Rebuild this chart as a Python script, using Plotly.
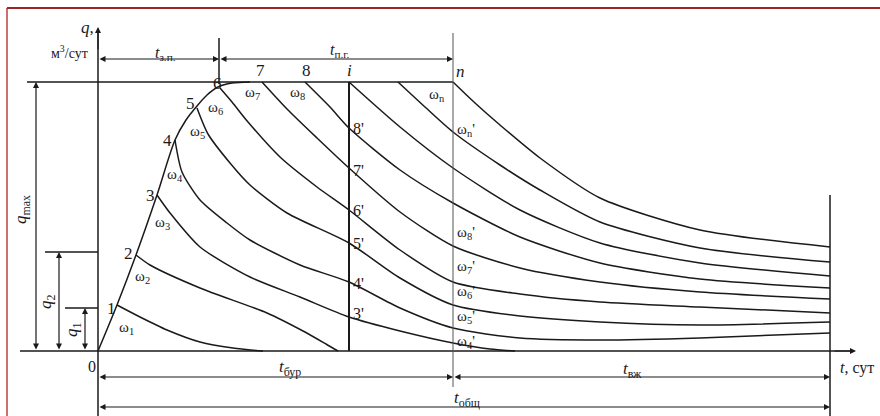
import plotly.graph_objects as go

# Key moments on the time axis and key flow-rate levels
T_ZP = 121      # end of ramp-up (point 6)
T_I = 251       # moment i
T_BUR = 355     # end of drilling (point n)
T_OBSH = 732    # end of field life
Q_MAX = 269
Q2 = 99
Q1 = 43

# Combined field production curve (ramp-up part)
rise_t = [0, 19, 38, 59, 77, 88, 99, 109, 120, 134, 152]
rise_q = [0, 46, 96, 156, 211, 231, 245, 256, 264, 268, 269]

# Decline curves of the individual wells brought on stream at points 1..8, i, m, n
c1_t = [19, 42, 69, 102, 135, 165]
c1_q = [46, 34, 21, 9, 3, 0]
c2_t = [38, 52, 102, 169, 205, 228, 240]
c2_q = [96, 86, 63, 38, 20, 7, 0]
c3_t = [59, 72, 102, 152, 202, 251, 302, 355, 392, 417]
c3_q = [156, 138, 104, 74, 54, 34, 20, 8, 2, 0]
c4_t = [77, 84, 102, 129, 152, 202, 251, 302, 355, 422, 502, 602, 732]
c4_q = [211, 179, 151, 128, 111, 86, 69, 43, 23, 13, 11, 13, 18]
c5_t = [99, 110, 132, 152, 189, 251, 302, 355, 422, 502, 602, 732]
c5_q = [243, 217, 188, 166, 138, 108, 73, 46, 35, 29, 26, 29]
c6_t = [122, 134, 150, 182, 219, 251, 302, 355, 422, 502, 602, 732]
c6_q = [263, 249, 229, 194, 164, 141, 101, 69, 57, 49, 44, 38]
c7_t = [164, 189, 219, 251, 302, 355, 422, 502, 602, 732]
c7_q = [269, 242, 213, 183, 139, 105, 83, 69, 59, 52]
c8_t = [207, 232, 251, 302, 355, 422, 502, 602, 732]
c8_q = [269, 244, 223, 181, 148, 114, 88, 72, 63]
ci_t = [251, 302, 355, 422, 502, 602, 732]
ci_q = [269, 224, 183, 141, 108, 88, 75]
cm_t = [300, 327, 355, 402, 442, 502, 602, 732]
cm_q = [269, 244, 219, 186, 161, 129, 103, 89]
cn_t = [355, 377, 402, 442, 502, 602, 732]
cn_q = [269, 248, 226, 193, 153, 121, 104]

decline = [(c1_t, c1_q), (c2_t, c2_q), (c3_t, c3_q), (c4_t, c4_q), (c5_t, c5_q),
           (c6_t, c6_q), (c7_t, c7_q), (c8_t, c8_q), (ci_t, ci_q), (cm_t, cm_q),
           (cn_t, cn_q)]

FONT = "Liberation Serif"
INK = "#1a1a1a"

fig = go.Figure()

fig.add_trace(go.Scatter(x=rise_t, y=rise_q, mode="lines",
                         line=dict(color=INK, width=1.5, shape="spline", smoothing=0.8),
                         hoverinfo="skip", showlegend=False))
for ct, cq in decline:
    fig.add_trace(go.Scatter(x=ct, y=cq, mode="lines",
                             line=dict(color=INK, width=1.5, shape="spline", smoothing=0.7),
                             hoverinfo="skip", showlegend=False))

shapes = []


def seg(x0, y0, x1, y1, w=1.5, c=INK):
    shapes.append(dict(type="line", xref="x", yref="y", x0=x0, y0=y0, x1=x1, y1=y1,
                       line=dict(color=c, width=w)))


# axes
seg(0, -70, 0, 318)
seg(-78, 0, 752, 0)
# q_max level
seg(-71, Q_MAX, T_BUR, Q_MAX)
# q2, q1 extension lines
seg(-53, Q2, 0, Q2)
seg(-33, Q1, 0, Q1)
# vertical markers
seg(T_ZP, 267, T_ZP, 313)
seg(T_I, 0, T_I, Q_MAX, w=2)
seg(T_BUR, -36, T_BUR, 318, w=1, c="#555555")
seg(T_OBSH, -70, T_OBSH, 156)

# picture frame
shapes.append(dict(type="line", xref="paper", yref="paper", x0=7 / 880, y0=0,
                   x1=7 / 880, y1=1 - 8 / 416, line=dict(color="#c97070", width=2)))
shapes.append(dict(type="line", xref="paper", yref="paper", x0=7 / 880, y0=1 - 8 / 416,
                   x1=1, y1=1 - 8 / 416, line=dict(color="#9b2525", width=2)))

ann = []


def arrow(x0, y0, x1, y1, both=True):
    ann.append(dict(x=x1, y=y1, ax=x0, ay=y0, xref="x", yref="y", axref="x", ayref="y",
                    text="", showarrow=True, arrowhead=2, arrowsize=1, arrowwidth=1.2,
                    arrowcolor=INK, arrowside="end+start" if both else "end"))


# dimension arrows
arrow(0, 292, T_ZP, 292)
arrow(T_ZP, 292, T_BUR, 292)
arrow(0, -26, T_BUR, -26)
arrow(T_BUR, -26, T_OBSH, -26)
arrow(0, -56, T_OBSH, -56)
arrow(-62, 0, -62, Q_MAX)
arrow(-39, 0, -39, Q2)
arrow(-13, 0, -13, Q1)
# axis arrow heads
arrow(0, 300, 0, 324, both=False)
arrow(735, 0, 758, 0, both=False)


def label(x, y, text, size=15, xanchor="center", angle=0):
    ann.append(dict(x=x, y=y, xref="x", yref="y", text=text, showarrow=False,
                    xanchor=xanchor, yanchor="middle", textangle=angle,
                    font=dict(family=FONT, size=size, color=INK)))


label(-11, 324, "<i>q</i>,", 17)
label(-29, 299, "м<sup>3</sup>/сут", 14)
label(67, 298, "<i>t</i><sub>з.п.</sub>", 16)
label(242, 301, "<i>t</i><sub>п.г.</sub>", 16)

for x, y, t in [(13, 43, "1"), (30, 98, "2"), (52, 156, "3"), (69, 211, "4"),
                (92, 248, "5"), (119, 268, "6"), (162, 281, "7"), (208, 281, "8")]:
    label(x, y, t, 17)
label(251, 281, "<i>i</i>", 17)
label(362, 280, "<i>n</i>", 17)

for x, y, t in [(28, 23, "1"), (44, 74, "2"), (64, 128, "3"), (77, 176, "4"),
                (99, 219, "5"), (117, 243, "6"), (154, 258, "7"), (199, 258, "8"),
                (339, 256, "n")]:
    label(x, y, "ω<sub>" + t + "</sub>", 15)

for y, t in [(223, "8'"), (181, "7'"), (141, "6'"), (108, "5'"), (68, "4'"), (38, "3'")]:
    label(253, y, t, 16, xanchor="left")

for y, t in [(221, "n"), (118, "8"), (84, "7"), (59, "6"), (34, "5"), (9, "4")]:
    label(357, y, "ω<sub>" + t + "</sub>'", 15, xanchor="left")

label(-6, -15, "0", 16)
label(192, -17, "<i>t</i><sub>бур</sub>", 17)
label(534, -19, "<i>t</i><sub>вж</sub>", 17)
label(369, -48, "<i>t</i><sub>общ</sub>", 17)
label(740, -17, "<i>t</i>, сут", 16, xanchor="left")
label(-76, 141, "<i>q</i><sub>max</sub>", 17, angle=-90)
label(-51, 49, "<i>q</i><sub>2</sub>", 17, angle=-90)
label(-25, 21, "<i>q</i><sub>1</sub>", 17, angle=-90)

fig.update_layout(
    width=880, height=416,
    margin=dict(l=0, r=0, t=0, b=0),
    paper_bgcolor="white", plot_bgcolor="white",
    xaxis=dict(range=[-98, 782], visible=False, fixedrange=True),
    yaxis=dict(range=[-65, 351], visible=False, fixedrange=True),
    shapes=shapes, annotations=ann, showlegend=False,
)

fig.write_html("out.html")
